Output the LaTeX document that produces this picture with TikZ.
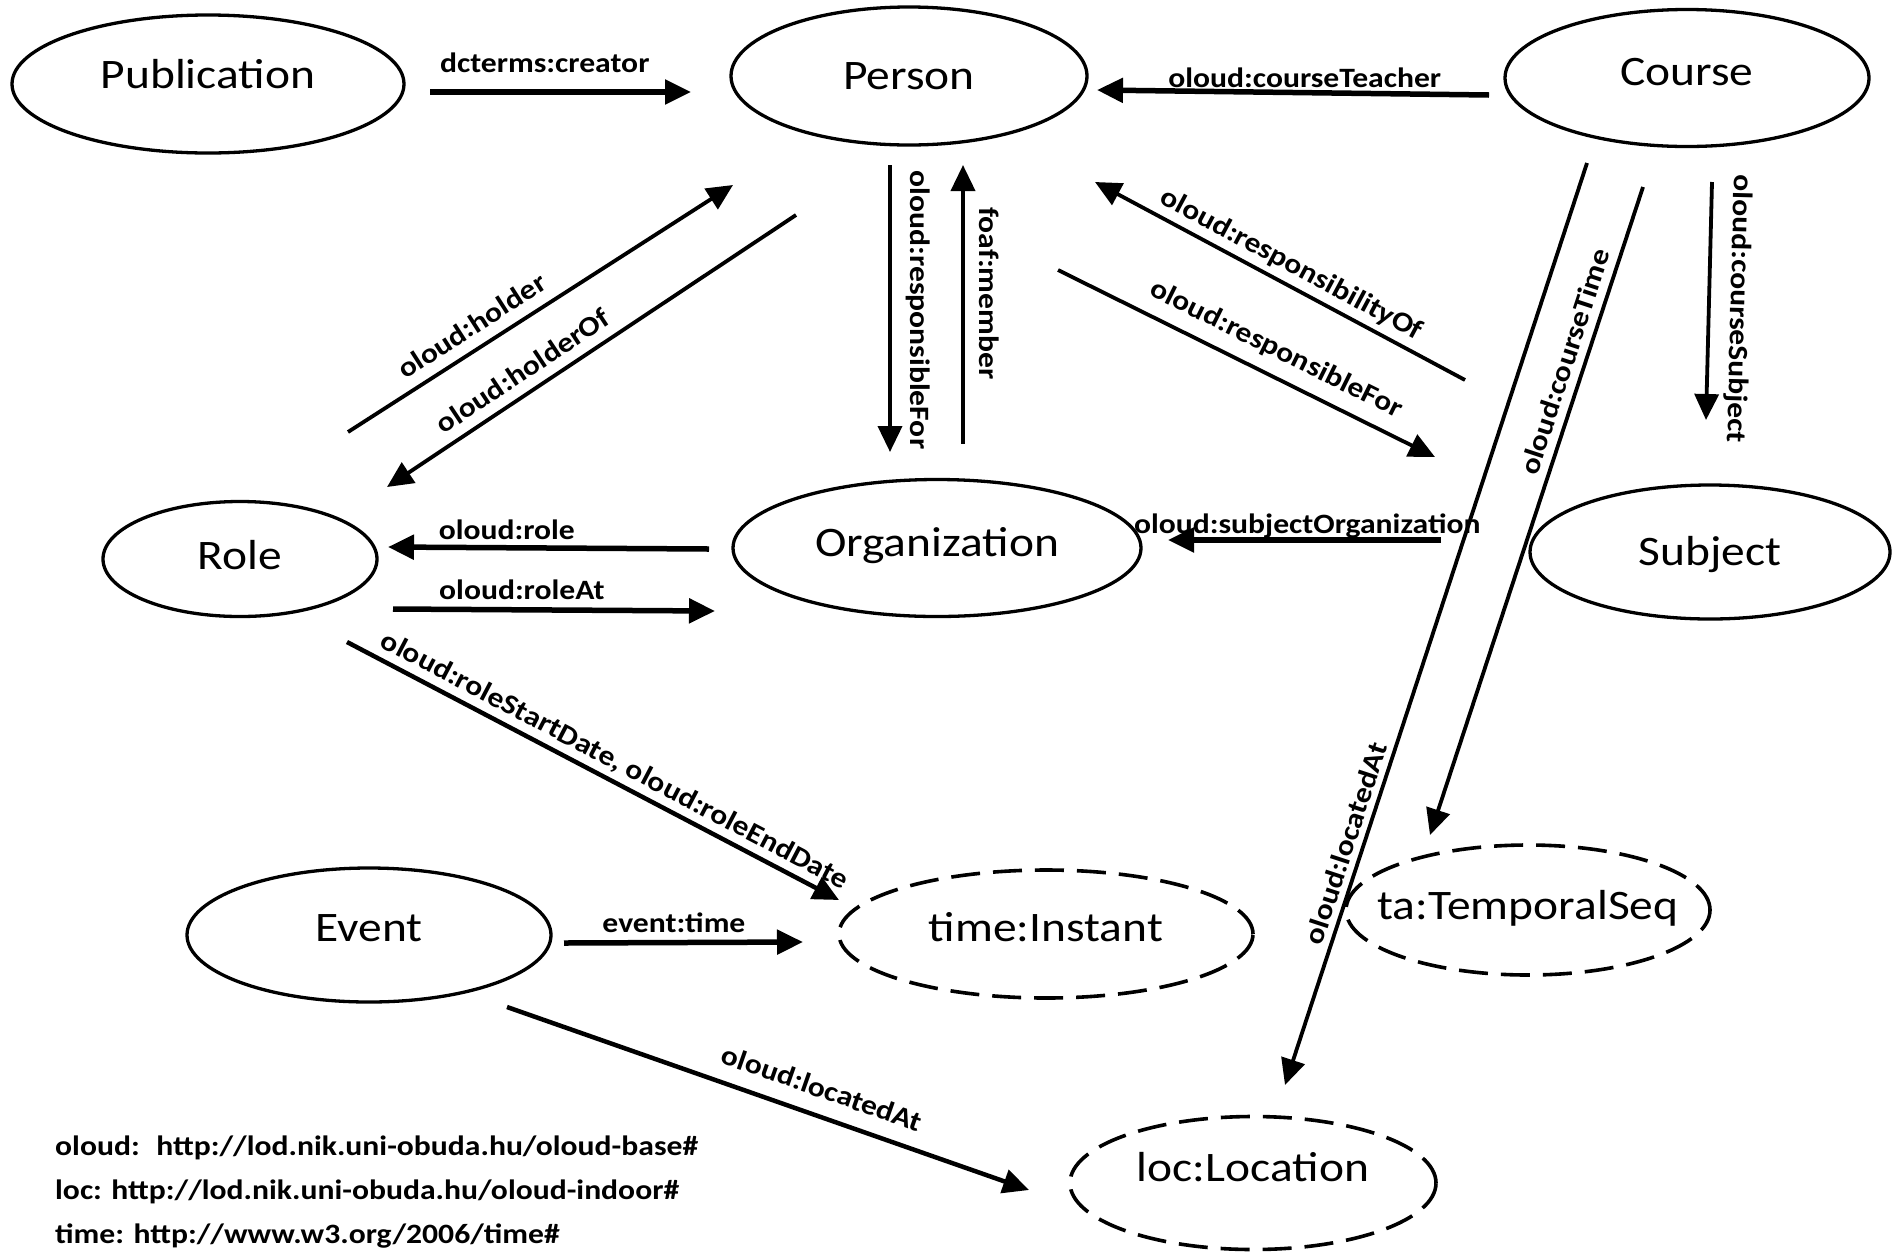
\documentclass[tikz,border=0pt]{standalone}
\usepackage{fontspec}
\setmainfont{Carlito}[FakeStretch=1.13]
\usetikzlibrary{shapes.geometric,arrows.meta}
\tikzstyle{cls} = [
  draw,
  ellipse,
  line width=3.3pt,
  inner xsep=-50pt,
  inner ysep=0pt,
  text height=27pt,
  text depth=0pt,
  font=\fontsize{42}{50}\selectfont,
]
\tikzstyle{ext} = [cls, line width=3.6pt, dash pattern=on 29pt off 13pt]
\tikzstyle{prop} = [line width=3.8pt, -{Triangle[length=26pt,width=24pt]}]
\tikzstyle{rprop} = [line width=3.8pt, {Triangle[length=26pt,width=24pt]}-]
\tikzstyle{heavy} = [line width=5.5pt]
\tikzstyle{lbl} = [font=\fontsize{28}{34}\selectfont\bfseries, inner sep=0pt, anchor=base]
\tikzstyle{ns} = [lbl, anchor=base west]

\begin{document}
\begin{tikzpicture}[x=1pt, y=-1pt]
  \useasboundingbox (0,0) rectangle (1892,1254);

  % Classes
  \node[cls, minimum width=392pt, minimum height=138pt, text depth=18pt] (publication) at (208,84) {Publication};
  \node[cls, minimum width=356pt, minimum height=138pt] (person) at (909,76) {Person};
  \node[cls, minimum width=364pt, minimum height=137pt, text depth=12pt] (course) at (1687,78) {Course};
  \node[cls, minimum width=274pt, minimum height=115pt, text depth=6pt] (role) at (240,559) {Role};
  \node[cls, minimum width=408pt, minimum height=137pt, text depth=10pt] (organization) at (937,548) {Organization};
  \node[cls, minimum width=360pt, minimum height=134pt] (subject) at (1710,552) {Subject};
  \node[cls, minimum width=364pt, minimum height=134pt, text depth=14pt] (event) at (369,935) {Event};

  % External classes
  \node[ext, minimum width=414pt, minimum height=128pt, text depth=12pt] (instant) at (1046,934) {time:Instant};
  \node[ext, minimum width=364pt, minimum height=130pt, text depth=8pt] (temporalseq) at (1528,910) {ta:TemporalSeq};
  \node[ext, minimum width=366pt, minimum height=133pt, text depth=30pt] (location) at (1253,1183) {loc:Location};

  % Connector ends
  \coordinate (creatorS) at (430,92);
  \coordinate (creatorT) at (691,92);
  \coordinate (teacherS) at (1489,95);
  \coordinate (teacherT) at (1097,90);
  \coordinate (holderS) at (348,432);
  \coordinate (holderT) at (733,185);
  \coordinate (holderOfS) at (796,215);
  \coordinate (holderOfT) at (387,487);
  \coordinate (respS) at (890,165);
  \coordinate (respT) at (890,452);
  \coordinate (memberT) at (963,165);
  \coordinate (memberS) at (963,444);
  \coordinate (respOfS) at (1465,380);
  \coordinate (respOfT) at (1095,182);
  \coordinate (respForS) at (1058,270);
  \coordinate (respForT) at (1435,457);
  \coordinate (timeS) at (1643,187);
  \coordinate (timeT) at (1430,835);
  \coordinate (locS) at (1587,163);
  \coordinate (locT) at (1285,1085);
  \coordinate (subjS) at (1712,182);
  \coordinate (subjT) at (1706,420);
  \coordinate (roleS) at (709,549);
  \coordinate (roleT) at (388,547);
  \coordinate (roleAtS) at (393,609);
  \coordinate (roleAtT) at (715,611);
  \coordinate (subjOrgS) at (1441,540);
  \coordinate (subjOrgT) at (1168,540);
  \coordinate (datesS) at (347,642);
  \coordinate (datesT) at (839,900);
  \coordinate (evTimeS) at (564,943);
  \coordinate (evTimeT) at (803,942);
  \coordinate (evLocS) at (507,1007);
  \coordinate (evLocT) at (1029,1190);

  % Properties
  \draw[prop, heavy] (creatorS) -- node[lbl, pos=.44, yshift=20pt] {dcterms:creator} (creatorT);
  \draw[prop, heavy] (teacherS) -- node[lbl, pos=.47, yshift=5pt] {oloud:courseTeacher} (teacherT);
  \draw[prop] (holderS) -- node[lbl, sloped, pos=.353, yshift=13pt] {oloud:holder} (holderT);
  \draw[prop] (holderOfS) -- node[lbl, sloped, pos=.639, yshift=12pt] {oloud:holderOf} (holderOfT);
  \draw[prop] (respS) -- node[lbl, sloped, pos=.505, yshift=20pt] {oloud:responsibleFor} (respT);
  \draw[rprop] (memberT) -- node[lbl, sloped, pos=.46, yshift=16pt] {foaf:member} (memberS);
  \draw[prop] (respOfS) -- node[lbl, sloped, pos=.495, yshift=12pt] {oloud:responsibilityOf} (respOfT);
  \draw[prop] (respForS) -- node[lbl, sloped, pos=.549, yshift=18pt] {oloud:responsibleFor} (respForT);
  \draw[prop] (subjS) -- node[lbl, sloped, allow upside down, pos=.53, yshift=22pt] {oloud:courseSubject} (subjT);
  \draw[prop, heavy] (roleS) -- node[lbl, pos=.63, yshift=8pt] {oloud:role} (roleT);
  \draw[prop, heavy] (roleAtS) -- node[lbl, pos=.40, yshift=10pt] {oloud:roleAt} (roleAtT);
  \draw[prop, heavy] (subjOrgS) -- node[lbl, pos=.49, yshift=7pt] {oloud:subjectOrganization} (subjOrgT);
  \draw[prop] (timeS) -- node[lbl, sloped, pos=.279, yshift=10pt] {oloud:courseTime} (timeT);
  \draw[prop] (locS) -- node[lbl, sloped, pos=.744, yshift=8pt] {oloud:locatedAt} (locT);
  \draw[prop, line width=4.5pt] (datesS) -- node[lbl, sloped, pos=.526, yshift=11pt] {oloud:roleStartDate, oloud:roleEndDate} (datesT);
  \draw[prop, heavy] (evTimeS) -- node[lbl, pos=.46, yshift=10pt] {event:time} (evTimeT);
  \draw[prop, line width=4.5pt] (evLocS) -- node[lbl, sloped, pos=.586, yshift=18pt] {oloud:locatedAt} (evLocT);

  % Namespaces
  \node[ns] (nsoloud) at (55,1155) {oloud:~ http://lod.nik.uni-obuda.hu/oloud-base\#};
  \node[ns] (nsloc) at (55,1199) {loc: http://lod.nik.uni-obuda.hu/oloud-indoor\#};
  \node[ns] (nstime) at (55,1243) {time: http://www.w3.org/2006/time\#};
\end{tikzpicture}
\end{document}
